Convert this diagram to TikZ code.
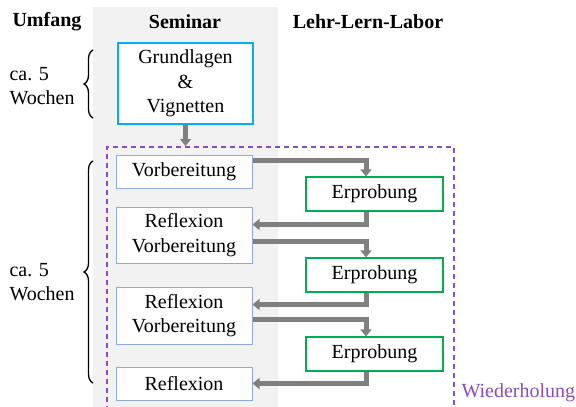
\documentclass[tikz,border=0pt]{standalone}
\usepackage{fontspec}
\setmainfont{Liberation Serif}
\usetikzlibrary{arrows.meta, calc, decorations.pathreplacing}

\definecolor{semgray}{HTML}{F2F2F2}
\definecolor{boxblue}{HTML}{8EAADB}
\definecolor{boxcyan}{HTML}{00B0F0}
\definecolor{boxgreen}{HTML}{00B050}
\definecolor{flowgray}{HTML}{808080}
\definecolor{wdhpurple}{HTML}{8A4CBF}

\begin{document}
\begin{tikzpicture} [x=1pt, y=-1pt, align=center, font=\fontsize{20}{24.5}\selectfont,
	seminar/.style={draw=boxblue, fill=white, line width=1pt, minimum width=136pt, inner sep=0pt},
	labor/.style={draw=boxgreen, fill=white, line width=1.2pt, minimum width=137pt, minimum height=34pt, inner sep=0pt},
	flow/.style={draw=flowgray, line width=5pt, -{Triangle[width=11pt, length=7pt]}},
	head/.style={font=\fontsize{20}{24}\selectfont\bfseries},
	curly/.style={decorate, decoration={brace, amplitude=9pt}, line width=1.3pt}]
\useasboundingbox (0,0) rectangle (576,407);
\fill[semgray] (93,7) rectangle (278,407);

\path (47,22) node[head] (hum) {Umfang}
	  (185,22) node[head] (hsem) {Seminar}
	  (368,22) node[head] (hlab) {Lehr-Lern-Labor}

	  (185.5,83.5) node[seminar, draw=boxcyan, line width=1.2pt, minimum width=135pt, minimum height=81pt] (grund) {Grundlagen\\\&\\Vignetten}
	  (106,146) node[anchor=north west, draw=wdhpurple, dash pattern=on 5pt off 4pt, line width=1.8pt, minimum width=347pt, minimum height=280pt, inner sep=0pt] (frame) {}

	  (184,171.5) node[seminar, minimum height=33pt] (vorb) {Vorbereitung}
	  (184,235) node[seminar, minimum height=56pt] (refvor1) {Reflexion\\Vorbereitung}
	  (184,315.5) node[seminar, minimum height=57pt] (refvor2) {Reflexion\\Vorbereitung}
	  (184,383.5) node[seminar, minimum height=33pt] (refl) {Reflexion}

	  (374.5,194) node[labor] (erp1) {Erprobung}
	  (374.5,275) node[labor] (erp2) {Erprobung}
	  (374.5,354) node[labor] (erp3) {Erprobung}

	  (458,393) node[anchor=west, text=wdhpurple] (wdh) {Wiederholung}

	  (6,86) node[anchor=west, align=left] (umf1) {ca. 5\\Wochen}
	  (6,282) node[anchor=west, align=left] (umf2) {ca. 5\\Wochen};

\coordinate (b1top) at (93,50);
\coordinate (b1bot) at (93,118);
\coordinate (b2top) at (93,161);
\coordinate (b2bot) at (93,383);

\draw[curly] (b1bot) -- (b1top);
\draw[curly] (b2bot) -- (b2top);

\draw[flow] (grund.south) -- (grund.south |- frame.north);

\draw[flow] ($(vorb.north east)+(0,6)$) -| ($(erp1.north)+(-8.5,0)$);
\draw[flow] ($(erp1.south)+(-8.5,0)$) |- ($(refvor1.north east)+(0,18)$);
\draw[flow] ($(refvor1.north east)+(0,35)$) -| ($(erp2.north)+(-8.5,0)$);
\draw[flow] ($(erp2.south)+(-8.5,0)$) |- ($(refvor2.north east)+(0,18)$);
\draw[flow] ($(refvor2.north east)+(0,33)$) -| ($(erp3.north)+(-8.5,0)$);
\draw[flow] ($(erp3.south)+(-8.5,0)$) |- (refl.east);

\end{tikzpicture}
\end{document}
